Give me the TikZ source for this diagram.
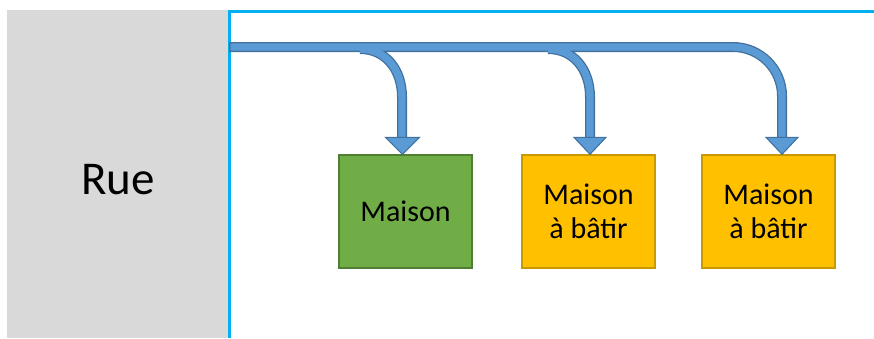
\documentclass[tikz,border=0pt]{standalone}
\usepackage{fontspec}
\setmainfont{Carlito}
\definecolor{streetgray}{HTML}{D9D9D9}
\definecolor{framecyan}{HTML}{00B0F0}
\definecolor{pipelight}{HTML}{5B9BD5}
\definecolor{pipedark}{HTML}{41719C}
\definecolor{housegreen}{HTML}{70AD47}
\definecolor{housegreenb}{HTML}{507E32}
\definecolor{houseyellow}{HTML}{FFC000}
\definecolor{houseyellowb}{HTML}{C99A00}
\tikzset{
  pipeouter/.style={draw=pipedark, line width=10pt},
  pipeinner/.style={draw=pipelight, line width=7.4pt},
  pipehead/.style={fill=pipelight, draw=pipedark, line width=1.1pt, line join=miter},
  housebox/.style={rectangle, minimum width=133pt, minimum height=113pt, inner sep=0pt,
    line width=1.4pt, align=center, font=\fontsize{30}{34}\selectfont},
  greenhouse/.style={housebox, fill=housegreen, draw=housegreenb},
  yellowhouse/.style={housebox, fill=houseyellow, draw=houseyellowb},
}
\begin{document}
\begin{tikzpicture}[x=1pt,y=-1pt]
\useasboundingbox (0,0) rectangle (874,338);
% street
\fill[streetgray] (7,10) rectangle (228,338);
\node[font=\fontsize{47}{47}\selectfont] (rue) at (118,180) {Rue};
% frame
\draw[framecyan, line width=3pt] (229,338) -- (229,11) -- (874,11);
% houses
\node[greenhouse] (m1) at (405.5,211.5) {Maison};
\node[yellowhouse] (m2) at (588.5,211.5) {Maison\\à bâtir};
\node[yellowhouse] (m3) at (768.5,211.5) {Maison\\à bâtir};
% connector ends
\coordinate (s) at (229,47);
\path (m1.north) ++(-3,0) coordinate (t1);
\path (m2.north) ++(1.5,0) coordinate (t2);
\path (m3.north) ++(13.5,0) coordinate (t3);
% pipes: dark outlines first
\draw[pipeouter] (360,49) .. controls (386,49) and (402,70) .. (402,97) -- (402,139);
\draw[pipeouter] (548,49) .. controls (574,49) and (590,70) .. (590,97) -- (590,139);
\draw[pipeouter] (s) -- (733,47) .. controls (760,47) and (782,69) .. (782,96) -- (782,139);
% light fills
\draw[pipeinner] (360,49) .. controls (386,49) and (402,70) .. (402,97) -- (402,139);
\draw[pipeinner] (548,49) .. controls (574,49) and (590,70) .. (590,97) -- (590,139);
\draw[pipeinner] (230.5,47) -- (733,47) .. controls (760,47) and (782,69) .. (782,96) -- (782,139);
% arrow heads
\draw[pipehead] (t1) -- ++(-17,-17) -- ++(34,0) -- cycle;
\draw[pipehead] (t2) -- ++(-16,-17) -- ++(32,0) -- cycle;
\draw[pipehead] (t3) -- ++(-16,-17) -- ++(32,0) -- cycle;
\end{tikzpicture}
\end{document}
